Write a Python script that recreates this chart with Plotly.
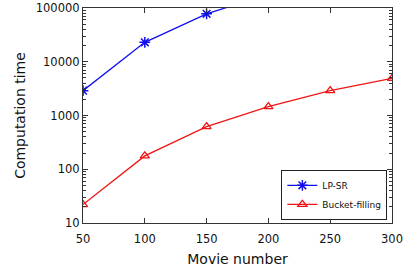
import plotly.graph_objects as go

movies = [50, 100, 150, 200, 250, 300]
lp_sr_x = [50, 100, 150, 200]
lp_sr = [2900, 23000, 78000, 180000]
bucket = [22, 177, 620, 1460, 2900, 4900]

fig = go.Figure()
fig.add_trace(go.Scatter(x=lp_sr_x, y=lp_sr, name="LP-SR", mode="lines+markers",
                         line=dict(color="#1010ee", width=1.3),
                         marker=dict(symbol="asterisk-open", size=9, color="#1010ee",
                                     line=dict(width=1.5, color="#1010ee"))))
fig.add_trace(go.Scatter(x=movies, y=bucket, name="Bucket-filling", mode="lines+markers",
                         line=dict(color="#ee1515", width=1.3),
                         marker=dict(symbol="triangle-up-open", size=8, color="#ee1515",
                                     line=dict(width=1.3, color="#ee1515"))))

font = dict(family="DejaVu Sans", size=11.5, color="#111")
fig.update_layout(
    width=406, height=272,
    margin=dict(l=83, r=14, t=8, b=49, autoexpand=False),
    paper_bgcolor="white", plot_bgcolor="white",
    font=font,
    showlegend=True,
    legend=dict(x=0.985, y=0.015, xanchor="right", yanchor="bottom",
                bordercolor="#222", borderwidth=1, bgcolor="white",
                font=dict(family="DejaVu Sans", size=9), itemwidth=30,
                tracegroupgap=0),
)
fig.update_xaxes(range=[50, 300], tickvals=[50, 100, 150, 200, 250, 300],
                 ticks="inside", ticklen=5, tickcolor="#333", showline=True,
                 linecolor="#333", linewidth=1.2, mirror="ticks", showgrid=False,
                 zeroline=False, automargin=False, ticklabelstandoff=5,
                 title=dict(text="Movie number", standoff=9),
                 tickfont=font)
fig.update_yaxes(type="log", range=[1, 5], dtick=1, tickformat="d",
                 ticks="inside", ticklen=5, tickcolor="#333", showline=True,
                 linecolor="#333", linewidth=1.2, mirror="ticks", showgrid=False,
                 zeroline=False, automargin=False,
                 title=dict(text="Computation time", standoff=6),
                 tickfont=font,
                 minor=dict(ticks="inside", ticklen=3, dtick="D1", tickcolor="#333",
                            showgrid=False))
fig.write_html("out.html", config={"displayModeBar": False},
               post_script="document.body.style.margin='0';")
